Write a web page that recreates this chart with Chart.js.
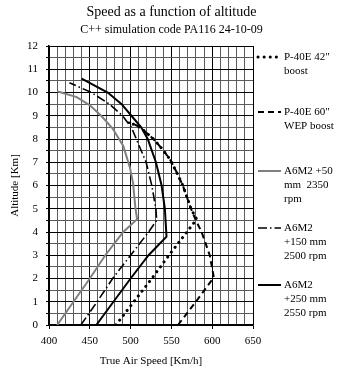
<!DOCTYPE html>
<html>
<head>
<meta charset="utf-8">
<script src="https://cdn.jsdelivr.net/npm/chart.js@4.4.0/dist/chart.umd.min.js"></script>
<style>
  html, body { margin: 0; padding: 0; background: #fff; }
  #wrap { width: 351px; height: 368px; position: relative; }
</style>
</head>
<body>
<div id="wrap"><canvas id="c"></canvas></div>
<script>
// ---- Data (speed in km/h, altitude in km) ----
const seriesNames = [
  ['P-40E 42"', 'boost'],
  ['P-40E 60"', 'WEP boost'],
  ['A6M2 +50', 'mm  2350', 'rpm'],
  ['A6M2', '+150 mm', '2500 rpm'],
  ['A6M2', '+250 mm', '2550 rpm']
];
const p40Boost_speed = [482, 504, 526, 547, 569, 581, 574, 564, 556, 548, 538, 528, 517, 509, 497];
const p40Boost_alt   = [0, 1, 2, 3, 4, 4.55, 5, 6, 6.6, 7.14, 7.6, 8.0, 8.34, 8.56, 8.72];
const p40Wep_speed = [558, 580, 602, 597, 587, 580, 574, 564, 556, 548, 538, 528, 517, 509, 497];
const p40Wep_alt   = [0, 1, 2.05, 3, 4, 4.5, 5, 6, 6.6, 7.14, 7.6, 8.0, 8.34, 8.56, 8.72];
const a6m50_speed = [410, 430, 450, 469, 491, 508, 506, 503, 499, 491, 478, 464, 450, 434, 415, 410];
const a6m50_alt   = [0, 1, 2, 3, 4, 4.55, 5, 6.1, 6.8, 7.7, 8.45, 9, 9.45, 9.8, 10, 10.05];
const a6m150_speed = [439, 459, 478, 500, 522, 532, 531, 526, 519, 507, 501, 490, 474, 452, 425];
const a6m150_alt   = [0, 1, 2, 3, 4, 4.5, 5, 6, 7, 8, 8.5, 9, 9.5, 10, 10.42];
const a6m250_speed = [458, 479, 500, 522, 544, 542, 538, 531, 521, 513, 501, 489, 472, 440];
const a6m250_alt   = [0, 1, 2, 3, 3.8, 5, 6, 7, 8, 8.5, 9, 9.5, 10, 10.6];

const xTicksMajor = [400, 450, 500, 550, 600, 650];
const yTicksMajor = [0, 1, 2, 3, 4, 5, 6, 7, 8, 9, 10, 11, 12];

function pts(xs, ys) { return xs.map((x, i) => ({ x: x, y: ys[i] })); }

const styles = [
  { color: '#000', width: 3, dash: [0.1, 6], cap: 'round' },
  { color: '#000', width: 2, dash: [6, 4], cap: 'butt' },
  { color: '#808080', width: 2, dash: [], cap: 'butt' },
  { color: '#000', width: 1.6, dash: [9, 3, 1.5, 3], cap: 'butt' },
  { color: '#000', width: 2, dash: [], cap: 'butt' }
];
const allData = [
  pts(p40Boost_speed, p40Boost_alt),
  pts(p40Wep_speed, p40Wep_alt),
  pts(a6m50_speed, a6m50_alt),
  pts(a6m150_speed, a6m150_alt),
  pts(a6m250_speed, a6m250_alt)
];

const datasets = allData.map((d, i) => ({
  label: seriesNames[i].join(' '),
  data: d,
  showLine: true,
  borderColor: styles[i].color,
  borderWidth: styles[i].width,
  borderDash: styles[i].dash,
  borderCapStyle: styles[i].cap,
  pointRadius: 0,
  tension: 0,
  fill: false,
  xAxisID: 'x',
  yAxisID: 'y'
}));

const FONT = 'Liberation Serif, Times New Roman, serif';
Chart.defaults.font.family = FONT;
Chart.defaults.color = '#000';

const legendPlugin = {
  id: 'sideLegend',
  afterDraw(chart) {
    const ctx = chart.ctx;
    const yStarts = [57, 112, 171, 228, 285];
    const lh = 14.3;
    const x0 = 258, x1 = 281, tx = 284;
    ctx.save();
    seriesNames.forEach((lines, i) => {
      const s = styles[i];
      const y = yStarts[i];
      ctx.beginPath();
      ctx.strokeStyle = s.color;
      ctx.lineWidth = s.width;
      ctx.setLineDash(s.dash);
      ctx.lineCap = s.cap;
      ctx.moveTo(x0, y);
      ctx.lineTo(x1, y);
      ctx.stroke();
      ctx.setLineDash([]);
      ctx.fillStyle = '#000';
      ctx.font = '11px ' + FONT;
      ctx.textAlign = 'left';
      ctx.textBaseline = 'middle';
      lines.forEach((t, j) => ctx.fillText(t, tx, y + j * lh));
    });
    ctx.restore();
  }
};

new Chart(document.getElementById('c'), {
  type: 'scatter',
  data: { datasets: datasets },
  plugins: [legendPlugin],
  options: {
    responsive: true,
    maintainAspectRatio: false,
    animation: false,
    layout: { padding: { left: 0, right: 8, top: 0, bottom: 0 } },
    plugins: {
      legend: { display: false },
      tooltip: { enabled: false },
      title: {
        display: true,
        text: 'Speed as a function of altitude',
        font: { size: 14, weight: 'normal', family: FONT },
        color: '#000',
        padding: { top: 4, bottom: 2 }
      },
      subtitle: {
        display: true,
        text: 'C++ simulation code PA116 24-10-09',
        font: { size: 12, weight: 'normal', family: FONT },
        color: '#000',
        padding: { top: 0, bottom: 8.8 }
      }
    },
    scales: {
      x: {
        type: 'linear',
        min: 400, max: 650,
        afterFit: s => { s.height = 43; },
        title: {
          display: true, text: 'True Air Speed [Km/h]',
          font: { size: 11, family: FONT }, color: '#000',
          padding: { top: 5, bottom: 0 }
        },
        ticks: {
          stepSize: 10, autoSkip: false, maxRotation: 0,
          font: { size: 11, family: FONT }, color: '#000', padding: 6,
          callback: v => (xTicksMajor.includes(v) ? String(v) : '')
        },
        grid: {
          color: c => (c.tick && c.tick.value % 50 === 0 ? '#000' : '#5a5a5a'),
          tickColor: c => (c.tick && c.tick.value % 50 === 0 ? '#000' : 'rgba(0,0,0,0)'),
          tickLength: 4, lineWidth: 1
        },
        border: { color: '#000', width: 1.5 }
      },
      y: {
        type: 'linear',
        min: 0, max: 12,
        afterFit: s => { s.width = 49; },
        title: {
          display: true, text: 'Altitude [Km]',
          font: { size: 11, family: FONT }, color: '#000',
          padding: { top: 9, bottom: 4 }
        },
        ticks: {
          stepSize: 0.5, autoSkip: false,
          font: { size: 11, family: FONT }, color: '#000', padding: 8,
          callback: v => (yTicksMajor.includes(v) ? String(v) : '')
        },
        grid: {
          color: c => (c.tick && Number.isInteger(c.tick.value) ? '#000' : '#5a5a5a'),
          tickColor: '#000',
          tickLength: 3, lineWidth: 1
        },
        border: { color: '#000', width: 1.5 }
      },
      yR: {
        type: 'linear', position: 'right', min: 0, max: 12,
        display: true,
        ticks: { display: false },
        grid: { display: false, drawTicks: false },
        border: { display: false },
        afterFit: s => { s.width = 90; }
      }
    }
  }
});
</script>
</body>
</html>
